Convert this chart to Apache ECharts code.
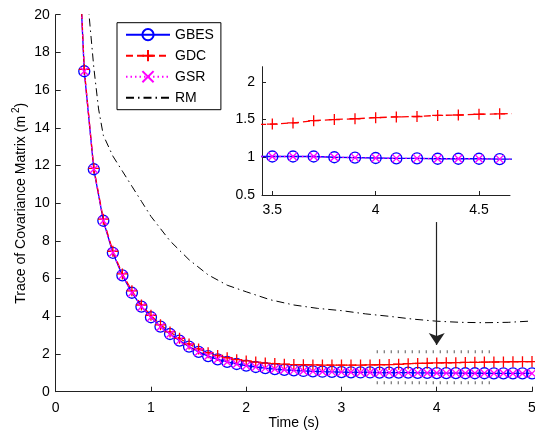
<!DOCTYPE html>
<html><head><meta charset="utf-8">
<script src="https://cdn.jsdelivr.net/npm/echarts@6/dist/echarts.min.js"></script>
<style>html,body{margin:0;padding:0;background:#fff}#c{width:535px;height:430px}</style>
</head><body><div id="c"></div>
<script>
// ---- data ----
const time = [0.2,0.3,0.4,0.5,0.6,0.7,0.8,0.9,1.0,1.1,1.2,1.3,1.4,1.5,1.6,1.7,1.8,1.9,2.0,2.1,2.2,2.3,2.4,2.5,2.6,2.7,2.8,2.9,3.0,3.1,3.2,3.3,3.4,3.5,3.6,3.7,3.8,3.9,4.0,4.1,4.2,4.3,4.4,4.5,4.6,4.7,4.8,4.9,5.0];
const gbes = [28.0,17.0,11.8,9.07,7.37,6.17,5.25,4.51,3.95,3.45,3.06,2.71,2.39,2.11,1.89,1.72,1.58,1.47,1.38,1.31,1.25,1.20,1.16,1.13,1.10,1.08,1.06,1.05,1.04,1.03,1.02,1.02,1.01,1.01,1.01,1.01,1.0,0.995,0.99,0.985,0.985,0.98,0.98,0.98,0.975,0.975,0.97,0.97,0.97];
const gdc = [28.3,17.1,11.85,9.15,7.45,6.25,5.35,4.6,4.05,3.55,3.17,2.83,2.53,2.27,2.07,1.92,1.80,1.70,1.63,1.57,1.52,1.49,1.46,1.44,1.43,1.42,1.415,1.41,1.41,1.41,1.415,1.42,1.43,1.44,1.455,1.485,1.50,1.51,1.525,1.535,1.54,1.555,1.56,1.57,1.575,1.58,1.59,1.595,1.6];
const gsr = [28.0,17.0,11.8,9.07,7.37,6.17,5.25,4.51,3.95,3.45,3.06,2.71,2.39,2.11,1.89,1.72,1.58,1.47,1.38,1.31,1.25,1.20,1.16,1.13,1.10,1.08,1.06,1.05,1.04,1.03,1.02,1.02,1.01,1.01,1.01,1.01,1.0,0.995,0.99,0.985,0.985,0.98,0.98,0.98,0.975,0.975,0.97,0.97,0.97];
const rmTime = [0.3,0.35,0.4,0.45,0.5,0.6,0.7,0.8,0.9,1.0,1.2,1.4,1.6,1.8,2.0,2.25,2.5,2.75,3.0,3.25,3.5,3.75,4.0,4.25,4.5,4.75,5.0];
const rm = [23.5,20.0,17.2,15.0,13.6,12.5,11.7,10.9,10.1,9.3,8.0,7.0,6.2,5.65,5.3,4.88,4.6,4.42,4.3,4.13,4.0,3.85,3.74,3.68,3.66,3.68,3.75];
const seriesNames = ['GBES','GDC','GSR','RM'];
const xTicks = [0,1,2,3,4,5];
const insetXTicks = [3.5,4,4.5];
const insetYTicks = [0.5,1,1.5,2];
const boxX = [3.37,4.61];      // zoom-region indicator (x)
const boxY = [0.48,2.12];      // zoom-region indicator (y)
const arrowX = [4,4];
const arrowY = [9.0,2.48];

// ---- chart ----
const pair = (xs, ys) => xs.map((x,i)=>[x, ys[i]]);
const FONT = "'Liberation Sans', Arial, sans-serif";
const plusPath = 'path://M5,0L5,10M0,5L10,5';
const crossPath = 'path://M0,0L10,10M10,0L0,10';

function mk(name, data, xi, color, lineType, symbol, size, lw) {
  return {
    name, type:'line', data, xAxisIndex:xi, yAxisIndex:xi,
    symbol, symbolSize:size, showSymbol:true, clip:true, animation:false,
    lineStyle:{color, width:lw, type:lineType},
    itemStyle: symbol==='circle' ? {color:'transparent', borderColor:color, borderWidth:1.3}
                                 : {color, borderColor:color, borderWidth:1.3},
    emphasis:{disabled:true}, z:2
  };
}
const gbesD = pair(time,gbes), gdcD = pair(time,gdc), gsrD = pair(time,gsr);
const series = [
  mk('GBES', gbesD, 0, '#0000ff', 'solid', 'circle', 11, 1.3),
  mk('GDC', gdcD, 0, '#ff0000', [7,4], plusPath, 11, 1.3),
  mk('GSR', gsrD, 0, '#ff00ff', [1.5,3], crossPath, 8, 1.3),
  {name:'RM', type:'line', data:pair(rmTime,rm), symbol:'circle', showSymbol:false, clip:true, animation:false,
   lineStyle:{color:'#000', width:1, type:[8,4,1.5,4]},
   itemStyle:{color:'transparent', borderColor:'transparent', borderWidth:0}, z:2},
  mk('GBES', gbesD, 1, '#0000ff', 'solid', 'circle', 11, 1.3),
  mk('GDC', gdcD, 1, '#ff0000', [7,4], plusPath, 11, 1.3),
  mk('GSR', gsrD, 1, '#ff00ff', [1.5,3], crossPath, 8, 1.3),
  {name:'box-top', type:'line', data:[[boxX[0],boxY[1]],[boxX[1],boxY[1]]], symbol:'none', animation:false,
   lineStyle:{color:'#555', width:3, type:[1,6]}, z:1},
  {name:'box-bottom', type:'line', data:[[boxX[0],boxY[0]],[boxX[1],boxY[0]]], symbol:'none', animation:false,
   lineStyle:{color:'#555', width:3, type:[1,6]}, z:1},
  {name:'arrow', type:'line', data:[], animation:false,
   markLine:{silent:true, animation:false, symbol:['none','arrow'], symbolSize:12,
     label:{show:false}, lineStyle:{color:'#222', width:1.2, type:'solid'},
     emphasis:{disabled:true},
     data:[[{coord:[arrowX[0],arrowY[0]]},{coord:[arrowX[1],arrowY[1]]}]]}}
];

const axisCommon = {
  axisLine:{show:true, onZero:false, lineStyle:{color:'#222', width:1}},
  axisTick:{show:true, inside:true, length:5, lineStyle:{color:'#222'}},
  splitLine:{show:false},
  axisLabel:{color:'#000', fontSize:14, fontFamily:FONT}
};
const chart = echarts.init(document.getElementById('c'), null, {renderer:'canvas'});
chart.setOption({
  animation:false,
  backgroundColor:'#fff',
  textStyle:{fontFamily:FONT},
  grid:[
    {left:55.7, right:3, top:14.7, bottom:38.3, containLabel:false, outerBoundsMode:'none'},
    {left:262, right:25, top:66.7, bottom:235, containLabel:false, outerBoundsMode:'none'}
  ],
  legend:{
    data:seriesNames, orient:'vertical', left:117, top:22.7,
    padding:[5,7,5,8], itemWidth:44, itemHeight:14, itemGap:7,
    borderColor:'#000', borderWidth:1, backgroundColor:'#fff',
    textStyle:{color:'#000', fontSize:14, fontFamily:FONT}, selectedMode:false
  },
  xAxis:[
    Object.assign({}, axisCommon, {type:'value', gridIndex:0, min:0, max:5, interval:1,
      name:'Time (s)', nameLocation:'middle', nameGap:24, nameMoveOverlap:false,
      nameTextStyle:{color:'#000', fontSize:14, fontFamily:FONT},
      axisLabel:Object.assign({}, axisCommon.axisLabel, {margin:9, customValues:xTicks}),
      axisTick:Object.assign({}, axisCommon.axisTick, {customValues:xTicks})}),
    Object.assign({}, axisCommon, {type:'value', gridIndex:1, min:3.45, max:4.65,
      axisLabel:Object.assign({}, axisCommon.axisLabel, {margin:8, customValues:insetXTicks}),
      axisTick:Object.assign({}, axisCommon.axisTick, {length:4, customValues:insetXTicks})})
  ],
  yAxis:[
    Object.assign({}, axisCommon, {type:'value', gridIndex:0, min:0, max:20, interval:2,
      name:'Trace of Covariance Matrix (m{sup|2})', nameLocation:'middle', nameGap:26, nameMoveOverlap:false,
      nameTextStyle:{color:'#000', fontSize:14, fontFamily:FONT,
        rich:{sup:{fontSize:10, fontFamily:FONT, color:'#000', padding:[0,0,8,3]}}},
      axisLabel:Object.assign({}, axisCommon.axisLabel, {margin:6})}),
    Object.assign({}, axisCommon, {type:'value', gridIndex:1, min:0.5, max:2.2,
      axisLabel:Object.assign({}, axisCommon.axisLabel, {margin:7, customValues:insetYTicks}),
      axisTick:Object.assign({}, axisCommon.axisTick, {length:4, customValues:insetYTicks})})
  ],
  series
});
</script></body></html>
